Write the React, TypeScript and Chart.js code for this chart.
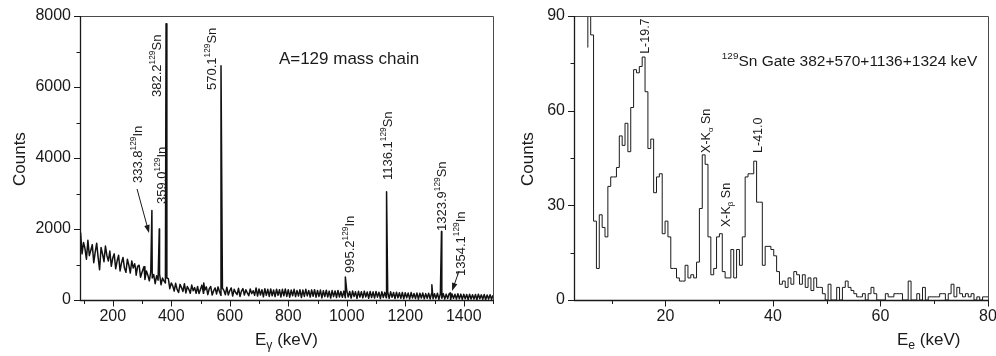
import React, { useEffect, useRef } from "react";
import { Chart, registerables } from "chart.js";

Chart.register(...registerables);

const FONT = "'Liberation Sans', Arial, Helvetica, sans-serif";
const INK = "#1a1a1a";

// ---------------- Left panel: gamma-ray spectrum ----------------
const gammaBgStartKeV = 90;
const gammaBgStepKeV = 5;
const gammaBackgroundCounts = [
  1900, 1300, 1620, 1450, 1150, 1680, 1250, 1400, 1560, 1050, 1350, 1600, 1200, 850, 1480, 1300, 1080, 1520, 1250, 1100,
  1380, 950, 1180, 1300, 880, 1100, 1260, 820, 1050, 1200, 900, 780, 1150, 980, 760, 1100, 900, 1020, 700, 950,
  980, 640, 780, 900, 580, 820, 700, 540, 800, 620, 720, 460, 680, 560, 740, 430, 620, 540, 480, 620,
  600, 320, 480, 400, 250, 470, 300, 210, 440, 350, 240, 460, 200, 380, 300, 190, 420, 260, 350, 190,
  380, 180, 300, 420, 190, 280, 370, 150, 320, 380, 140, 260, 340, 170, 370, 230, 130, 330, 270, 150,
  360, 140, 260, 340, 110, 300, 210, 150, 330, 100, 250, 320, 140, 290, 200, 120, 310, 180, 260, 130,
  340, 110, 310, 140, 290, 90, 320, 130, 300, 100, 310, 120, 280, 95, 305, 130, 290, 85, 300, 120,
  310, 100, 290, 80, 280, 120, 300, 95, 270, 110, 290, 70, 280, 100, 300, 115, 270, 85, 285, 105,
  290, 80, 270, 100, 280, 60, 260, 95, 275, 85, 250, 55, 265, 95, 255, 70, 270, 85, 240, 75,
  250, 65, 260, 85, 240, 55, 255, 95, 230, 45, 245, 80, 235, 60, 250, 85, 225, 50, 240, 70,
  230, 55, 240, 80, 220, 40, 235, 70, 215, 60, 225, 45, 230, 75, 210, 40, 220, 60, 205, 50,
  215, 35, 205, 60, 195, 30, 210, 55, 185, 40, 200, 25, 190, 55, 195, 35, 180, 50, 190, 30,
  185, 35, 175, 45, 190, 20, 170, 50, 180, 30, 165, 40, 175, 15, 170, 45, 160, 30, 175, 35,
  165, 20, 160, 35, 155, 15, 165, 30, 150, 25, 155, 10, 160, 35, 145, 20, 155, 15, 140, 25,
  150, 20, 135,
];
const gammaPeakEnergies = [278, 307, 333.8, 359.0, 382.2, 511, 570.1, 995.2, 1136.1, 1291, 1323.9, 1354.1];
const gammaPeakCounts = [880, 940, 2520, 2000, 7780, 480, 6600, 650, 3050, 430, 1930, 200];
const gammaXTicks = [100, 200, 300, 400, 500, 600, 700, 800, 900, 1000, 1100, 1200, 1300, 1400, 1500];
const gammaYTicks = [0, 1000, 2000, 3000, 4000, 5000, 6000, 7000, 8000];

const gammaLabelNumbers = ["382.2", "570.1", "333.8", "359.0", "995.2", "1136.1", "1323.9", "1354.1"];
const gammaLabelElements = ["Sn", "Sn", "In", "In", "In", "Sn", "Sn", "In"];
const gammaLabelKeV = [348, 536, 283, 365, 1008, 1138, 1322, 1387];
const gammaLabelBaseCounts = [5720, 5915, 3296, 2704, 760, 3380, 1944, 676];
const gammaArrowFrom = [[283, 3127], [1384, 817]];
const gammaArrowTo = [[324, 1887], [1360, 254]];
const gammaTitleKeV = 768;
const gammaTitleCounts = 6648;

// ---------------- Right panel: conversion-electron spectrum ----------------
const eBinStartKeV = 5.574;
const eBinWidthKeV = 0.532;
const electronCounts = [
  80, 120, 84, 25, 10, 27, 23, 20, 36, 39,
  39, 42, 52, 49, 56, 47, 61, 73, 72, 74,
  77, 66, 48, 51, 34, 39, 40, 21, 25, 20,
  10, 10, 7, 6, 6, 11, 7, 8, 7, 12,
  29, 46, 43, 20, 8, 10, 20, 21, 9, 7,
  7, 16, 7, 16, 11, 20, 39, 40, 40, 44,
  31, 31, 11, 17, 17, 16, 14, 9, 5, 6,
  4, 7, 5, 9, 8, 5, 8, 4, 7, 3,
  7, 4, 4, 2, 0, 5, 0, 0, 4, 0,
  4, 6, 4, 3, 2, 1, 1, 2, 0, 2,
  4, 2, 0, 0, 0, 2, 1, 1, 2, 2,
  2, 0, 0, 6, 0, 0, 2, 0, 4, 0,
  1, 1, 1, 1, 2, 2, 0, 2, 5, 1,
  4, 2, 1, 2, 1, 2, 0, 1, 0, 1,
];
const electronXTicks = [10, 20, 30, 40, 50, 60, 70, 80];
const electronYTicks = [0, 15, 30, 45, 60, 75, 90];
const electronLabelKeV = [16.2, 27.55, 31.27, 37.2];
const electronLabelBaseCounts = [78, 46.6, 23.1, 46.6];
const gateTextKeV = 30.5;
const gateTextCounts = 74.2;

type Seg = { t: string; k?: "sup" | "sub" };

function drawRich(
  ctx: CanvasRenderingContext2D,
  segs: Seg[],
  x: number,
  y: number,
  size: number,
  vertical: boolean,
  subScale = 0.64
) {
  ctx.save();
  ctx.translate(x, y);
  if (vertical) ctx.rotate(-Math.PI / 2);
  ctx.textAlign = "left";
  ctx.textBaseline = "alphabetic";
  ctx.fillStyle = INK;
  let cx = 0;
  for (const s of segs) {
    const fs = s.k ? size * subScale : size;
    const dy = s.k === "sup" ? -size * 0.42 : s.k === "sub" ? size * 0.24 : 0;
    ctx.font = `${fs}px ${FONT}`;
    ctx.fillText(s.t, cx, dy);
    cx += ctx.measureText(s.t).width;
  }
  ctx.restore();
}

function drawArrow(ctx: CanvasRenderingContext2D, x1: number, y1: number, x2: number, y2: number) {
  const ang = Math.atan2(y2 - y1, x2 - x1);
  const hl = 8;
  const hw = 2.8;
  ctx.strokeStyle = INK;
  ctx.fillStyle = INK;
  ctx.lineWidth = 1;
  ctx.beginPath();
  ctx.moveTo(x1, y1);
  ctx.lineTo(x2 - Math.cos(ang) * hl * 0.8, y2 - Math.sin(ang) * hl * 0.8);
  ctx.stroke();
  ctx.beginPath();
  ctx.moveTo(x2, y2);
  ctx.lineTo(x2 - hl * Math.cos(ang) + hw * Math.sin(ang), y2 - hl * Math.sin(ang) - hw * Math.cos(ang));
  ctx.lineTo(x2 - hl * Math.cos(ang) - hw * Math.sin(ang), y2 - hl * Math.sin(ang) + hw * Math.cos(ang));
  ctx.closePath();
  ctx.fill();
}

function drawFrameAndTicks(chart: any, isMajorX: (v: number) => boolean, isMajorY: (v: number) => boolean) {
  const ctx: CanvasRenderingContext2D = chart.ctx;
  const a = chart.chartArea;
  const xs = chart.scales.x;
  const ys = chart.scales.y;
  const L = Math.round(a.left);
  const R = Math.round(a.right);
  const T = Math.round(a.top);
  const B = Math.round(a.bottom);
  ctx.save();
  ctx.strokeStyle = "#4a4a4a";
  ctx.lineWidth = 1;
  ctx.beginPath();
  ctx.moveTo(L, T + 0.5);
  ctx.lineTo(R + 0.5, T + 0.5);
  ctx.lineTo(R + 0.5, B);
  ctx.stroke();
  ctx.strokeStyle = INK;
  ctx.lineWidth = 1.3;
  ctx.beginPath();
  ctx.moveTo(L + 0.5, T);
  ctx.lineTo(L + 0.5, B + 0.5);
  ctx.lineTo(R + 1, B + 0.5);
  ctx.stroke();
  ctx.lineWidth = 1;
  ctx.beginPath();
  for (const t of xs.ticks) {
    const px = Math.round(xs.getPixelForValue(t.value)) + 0.5;
    const len = isMajorX(t.value) ? 6 : 3.5;
    ctx.moveTo(px, B);
    ctx.lineTo(px, B + 0.5 + len);
  }
  for (const t of ys.ticks) {
    const py = Math.round(ys.getPixelForValue(t.value)) + 0.5;
    const len = isMajorY(t.value) ? 6 : 3.5;
    ctx.moveTo(L - len, py);
    ctx.lineTo(L + 0.5, py);
  }
  ctx.stroke();
  ctx.restore();
}

function axisOptions(
  min: number,
  max: number,
  tickValues: number[],
  isMajor: (v: number) => boolean,
  horizontal: boolean,
  size: number
) {
  return {
    type: "linear" as const,
    min,
    max,
    afterBuildTicks: (s: any) => {
      s.ticks = tickValues.map((v) => ({ value: v }));
    },
    afterFit: (s: any) => {
      if (horizontal) {
        s.height = 56;
        s.paddingLeft = 0;
        s.paddingRight = 0;
      } else {
        s.width = size;
        s.paddingTop = 0;
        s.paddingBottom = 0;
      }
    },
    grid: { display: false, drawTicks: false },
    border: { display: false },
    ticks: {
      autoSkip: false,
      maxRotation: 0,
      minRotation: 0,
      padding: horizontal ? 7 : 9,
      color: INK,
      font: { family: FONT, size: 16 },
      callback: (v: any) => (isMajor(Number(v)) ? String(v) : ""),
    },
  };
}

const gammaMajorX = (v: number) => v % 200 === 0;
const gammaMajorY = (v: number) => v % 2000 === 0;
const eMajorX = (v: number) => v % 20 === 0;
const eMajorY = (v: number) => v % 30 === 0;

function leftConfig(): any {
  const points = [
    ...gammaBackgroundCounts.map((c, i) => ({ x: gammaBgStartKeV + i * gammaBgStepKeV, y: c })),
    ...gammaPeakEnergies.map((e, i) => ({ x: e, y: gammaPeakCounts[i] })),
  ].sort((p, q) => p.x - q.x);

  const overlay = {
    id: "gammaOverlay",
    afterDraw(chart: any) {
      const ctx: CanvasRenderingContext2D = chart.ctx;
      const xs = chart.scales.x;
      const ys = chart.scales.y;
      drawFrameAndTicks(chart, gammaMajorX, gammaMajorY);
      const fs = 13;
      gammaLabelNumbers.forEach((num, i) => {
        const px = xs.getPixelForValue(gammaLabelKeV[i]);
        const py = ys.getPixelForValue(gammaLabelBaseCounts[i]);
        drawRich(ctx, [{ t: num }, { t: "129", k: "sup" }, { t: gammaLabelElements[i] }], px + fs * 0.36, py, fs, true);
      });
      gammaArrowFrom.forEach((f, i) => {
        const t = gammaArrowTo[i];
        drawArrow(ctx, xs.getPixelForValue(f[0]), ys.getPixelForValue(f[1]), xs.getPixelForValue(t[0]), ys.getPixelForValue(t[1]));
      });
      drawRich(ctx, [{ t: "A=129 mass chain" }], xs.getPixelForValue(gammaTitleKeV), ys.getPixelForValue(gammaTitleCounts), 17, false);
      drawRich(ctx, [{ t: "Counts" }], 19 + 6, 186, 17, true);
      drawRich(ctx, [{ t: "E" }, { t: "γ", k: "sub" }, { t: " (keV)" }], 255, 345, 17, false, 0.72);
    },
  };

  return {
    type: "line",
    data: {
      datasets: [
        {
          data: points,
          borderColor: "#111111",
          borderWidth: 1.5,
          pointRadius: 0,
          tension: 0,
          fill: false,
          borderJoinStyle: "round",
        },
      ],
    },
    options: {
      animation: false,
      responsive: false,
      devicePixelRatio: 1,
      events: [],
      layout: { padding: { top: 16, right: 7, left: 0, bottom: 0 } },
      plugins: { legend: { display: false }, tooltip: { enabled: false }, title: { display: false } },
      scales: {
        x: axisOptions(88, 1500, gammaXTicks, gammaMajorX, true, 56),
        y: axisOptions(0, 8000, gammaYTicks, gammaMajorY, false, 80),
      },
    },
    plugins: [overlay],
  };
}

function rightConfig(): any {
  const points = electronCounts.map((c, i) => ({ x: eBinStartKeV + i * eBinWidthKeV, y: c }));
  points.push({ x: eBinStartKeV + electronCounts.length * eBinWidthKeV, y: electronCounts[electronCounts.length - 1] });

  const labelSegs: Seg[][] = [
    [{ t: "L-19.7" }],
    [{ t: "X-K" }, { t: "α", k: "sub" }, { t: " Sn" }],
    [{ t: "X-K" }, { t: "β", k: "sub" }, { t: " Sn" }],
    [{ t: "L-41.0" }],
  ];

  const overlay = {
    id: "electronOverlay",
    afterDraw(chart: any) {
      const ctx: CanvasRenderingContext2D = chart.ctx;
      const xs = chart.scales.x;
      const ys = chart.scales.y;
      drawFrameAndTicks(chart, eMajorX, eMajorY);
      const fs = 12.5;
      labelSegs.forEach((segs, i) => {
        const px = xs.getPixelForValue(electronLabelKeV[i]);
        const py = ys.getPixelForValue(electronLabelBaseCounts[i]);
        drawRich(ctx, segs, px + fs * 0.36, py, fs, true);
      });
      drawRich(
        ctx,
        [{ t: "129", k: "sup" }, { t: "Sn Gate 382+570+1136+1324 keV" }],
        xs.getPixelForValue(gateTextKeV),
        ys.getPixelForValue(gateTextCounts),
        15.5,
        false
      );
      drawRich(ctx, [{ t: "Counts" }], 27 + 6, 186, 17, true);
      drawRich(ctx, [{ t: "E" }, { t: "e", k: "sub" }, { t: " (keV)" }], 397, 345, 17, false, 0.72);
    },
  };

  return {
    type: "line",
    data: {
      datasets: [
        {
          data: points,
          borderColor: INK,
          borderWidth: 1,
          pointRadius: 0,
          tension: 0,
          fill: false,
          stepped: "after",
          borderJoinStyle: "miter",
        },
      ],
    },
    options: {
      animation: false,
      responsive: false,
      devicePixelRatio: 1,
      events: [],
      layout: { padding: { top: 16, right: 8, left: 0, bottom: 0 } },
      plugins: { legend: { display: false }, tooltip: { enabled: false }, title: { display: false } },
      scales: {
        x: axisOptions(3, 80, electronXTicks, eMajorX, true, 56),
        y: axisOptions(0, 90, electronYTicks, eMajorY, false, 74),
      },
    },
    plugins: [overlay],
  };
}

export default function App() {
  const leftRef = useRef<HTMLCanvasElement>(null);
  const rightRef = useRef<HTMLCanvasElement>(null);

  useEffect(() => {
    const c1 = new Chart(leftRef.current as HTMLCanvasElement, leftConfig());
    const c2 = new Chart(rightRef.current as HTMLCanvasElement, rightConfig());
    return () => {
      c1.destroy();
      c2.destroy();
    };
  }, []);

  return (
    <div
      style={{
        position: "fixed",
        left: 0,
        top: 0,
        width: 996,
        height: 356,
        background: "#ffffff",
        overflow: "hidden",
      }}
    >
      <canvas
        ref={leftRef}
        width={500}
        height={356}
        style={{ position: "absolute", left: 0, top: 0, width: 500, height: 356 }}
      />
      <canvas
        ref={rightRef}
        width={496}
        height={356}
        style={{ position: "absolute", left: 500, top: 0, width: 496, height: 356 }}
      />
    </div>
  );
}
